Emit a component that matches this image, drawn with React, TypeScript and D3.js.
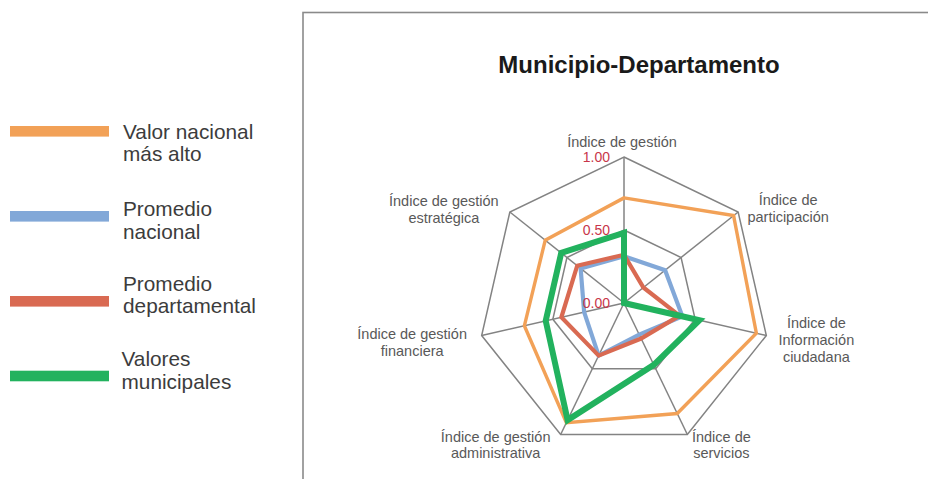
import * as d3 from "d3";

// ejes del radar (el "\n" marca el salto de línea de la etiqueta)
const categories = [
  "Índice de gestión",
  "Índice de\nparticipación",
  "Índice de\nInformación\nciudadana",
  "Índice de\nservicios",
  "Índice de gestión\nadministrativa",
  "Índice de gestión\nfinanciera",
  "Índice de gestión\nestratégica",
];

const seriesNames = [
  "Valor nacional\nmás alto",
  "Promedio\nnacional",
  "Promedio\ndepartamental",
  "Valores\nmunicipales",
];

const valorNacionalMasAlto = [0.72, 0.96, 0.93, 0.84, 0.91, 0.7, 0.69];
const promedioNacional = [0.32, 0.36, 0.41, 0.24, 0.4, 0.28, 0.38];
const promedioDepartamental = [0.33, 0.17, 0.39, 0.27, 0.4, 0.44, 0.41];
const valoresMunicipales = [0.48, 0.0, 0.53, 0.47, 0.89, 0.55, 0.55];

const tickValues = [0, 0.5, 1];
const tickLabels = ["0.00", "0.50", "1.00"];

const W = 928;
const H = 479;
const cx = 624;
const cy = 303;
const R = 146;

const colors = ["#f2a157", "#82a8d8", "#d96a52", "#22b25e"];
const widths = [3.4, 4.2, 4.2, 6];

// desplazamiento de cada etiqueta respecto a su vértice exterior
const labelOffsets: [number, number][] = [
  [-2, -10.3],
  [50, -7],
  [50, -7.2],
  [34, 7.2],
  [-65, 7.2],
  [-69.5, 3.8],
  [-66, -6],
];
const labelLineH = 16.7;

// posiciones de la leyenda (centro de la muestra y líneas de texto)
const legendSwatchY = [131.3, 216.3, 301.3, 376];
const legendTextY = [
  [138.5, 160.5],
  [216, 239.3],
  [290.5, 312.5],
  [366, 388.5],
];

export default function App() {
  const n = categories.length;
  const r = d3.scaleLinear().domain([0, 1]).range([0, R]);
  const angle = (i: number) => (i * 2 * Math.PI) / n;
  const pt = (i: number, v: number): [number, number] => [
    cx + r(v) * Math.sin(angle(i)),
    cy - r(v) * Math.cos(angle(i)),
  ];

  const radial = d3
    .lineRadial<number>()
    .angle((_d, i) => angle(i))
    .radius((d) => r(d))
    .curve(d3.curveLinearClosed);

  const series = [valorNacionalMasAlto, promedioNacional, promedioDepartamental, valoresMunicipales];
  const font = "'Liberation Sans', Arial, Helvetica, sans-serif";

  return (
    <svg width={W} height={H} style={{ position: "absolute", left: 0, top: 0 }} fontFamily={font}>
      <rect x={0} y={0} width={W} height={H} fill="#fff" />
      {/* marco del gráfico */}
      <rect x={303} y={12.5} width={W} height={H} fill="none" stroke="#8a8a8a" strokeWidth={1.6} />
      <text x={639} y={73} textAnchor="middle" fontSize={24} fontWeight="bold" fill="#1a1a1a">
        Municipio-Departamento
      </text>

      {/* rejilla */}
      <g stroke="#838383" strokeWidth={1.5} fill="none">
        {tickValues
          .filter((t) => t > 0)
          .map((t) => (
            <path
              key={t}
              transform={`translate(${cx},${cy})`}
              d={radial(categories.map(() => t)) as string}
            />
          ))}
        {categories.map((_c, i) => {
          const [x, y] = pt(i, 1);
          return <line key={i} x1={cx} y1={cy} x2={x} y2={y} />;
        })}
      </g>

      {/* series */}
      {series.map((s, k) => (
        <path
          key={k}
          transform={`translate(${cx},${cy})`}
          d={radial(s) as string}
          fill="none"
          stroke={colors[k]}
          strokeWidth={widths[k]}
          strokeLinejoin="miter"
        />
      ))}

      {/* etiquetas del eje radial */}
      {tickValues.map((t, i) => (
        <text
          key={t}
          x={cx - 14}
          y={cy - r(t)}
          dy="0.35em"
          textAnchor="end"
          fontSize={14}
          fill="#c8364a"
        >
          {tickLabels[i]}
        </text>
      ))}

      {/* etiquetas de categorías */}
      {categories.map((c, i) => {
        const [x, y] = pt(i, 1);
        const [ox, oy] = labelOffsets[i];
        return (
          <text key={c} x={x + ox} y={y + oy} textAnchor="middle" fontSize={14.5} fill="#595959">
            {c.split("\n").map((line, j) => (
              <tspan key={j} x={x + ox} y={y + oy + j * labelLineH}>
                {line}
              </tspan>
            ))}
          </text>
        );
      })}

      {/* leyenda */}
      {seriesNames.map((name, k) => (
        <g key={name}>
          <rect x={10} y={legendSwatchY[k] - 5.3} width={99} height={10.6} fill={colors[k]} />
          <text fontSize={20.8} fill="#3c3c3c">
            {name.split("\n").map((line, j) => (
              <tspan key={j} x={k === 3 ? 121.5 : 123} y={legendTextY[k][j]}>
                {line}
              </tspan>
            ))}
          </text>
        </g>
      ))}
    </svg>
  );
}
